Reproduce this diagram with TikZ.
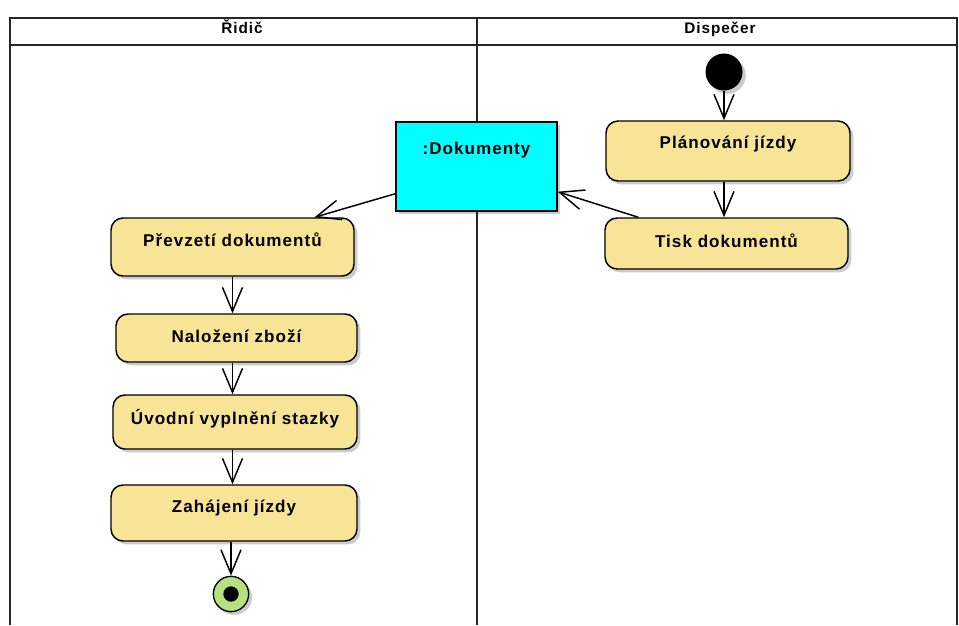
\documentclass[tikz,border=0pt]{standalone}
\usepackage{fontspec}
\setmainfont{Liberation Sans}
\newfontfamily\actfont[LetterSpace=6]{Liberation Sans}
\usetikzlibrary{arrows.meta,shadows,calc}
\definecolor{actfill}{RGB}{248,228,150}
\definecolor{objfill}{RGB}{0,255,255}
\definecolor{endfill}{RGB}{182,225,128}
\begin{document}
\begin{tikzpicture}[x=0.75pt,y=-0.75pt,
  lane/.style={draw=black!85, line width=1pt},
  head/.style={font=\actfont\bfseries\fontsize{11.5}{13}\selectfont, text height=9pt, text depth=3pt},
  shade/.style={drop shadow={shadow xshift=2.5pt, shadow yshift=-2.5pt, fill=black, opacity=0.2}},
  act/.style={draw, line width=1.1pt, fill=actfill, rounded corners=9pt, shade,
    font=\actfont\bfseries\fontsize{12.8}{14}\selectfont, text height=9pt, inner sep=2pt},
  obj/.style={draw, line width=1.1pt, fill=objfill, shade,
    font=\actfont\bfseries\fontsize{12.8}{14}\selectfont, text height=9pt, inner sep=2pt},
  flow/.style={draw, line width=1.1pt, -{Straight Barb[length=18pt, width=15pt, line width=1.1pt]}}]
\useasboundingbox (0,0) rectangle (959,625);

% swimlane frame
\draw[lane] (10,625) -- (10,18) -- (957,18) -- (957,625);
\draw[lane] (10,45) -- (957,45);
\draw[lane] (477,18) -- (477,625);
\node[head] (hR) at (242,29.5) {Řidič};
\node[head] (hD) at (720,29.5) {Dispečer};

% Dispečer lane
\node[circle, fill=black, minimum size=27.75pt, inner sep=0pt, shade] (init) at (724,72) {};
\node[act, minimum width=183pt, minimum height=45pt, text depth=12.5pt] (plan) at (728,151) {Plánování jízdy};
\node[act, minimum width=182.25pt, minimum height=38.25pt, text depth=3pt] (tisk) at (726.5,243.5) {Tisk dokumentů};

% object flow node
\node[obj, minimum width=120.75pt, minimum height=66.75pt, text depth=27.5pt] (dok) at (476.5,166.5) {:Dokumenty};

% Řidič lane
\node[act, minimum width=182.25pt, minimum height=43.5pt, text depth=9.5pt] (prev) at (232.5,247) {Převzetí dokumentů};
\node[act, minimum width=180.75pt, minimum height=36pt, text depth=2pt] (nal) at (236.5,338) {Naložení zboží};
\node[act, minimum width=183pt, minimum height=40.5pt, text depth=5pt] (uvod) at (235,422) {Úvodní vyplnění stazky};
\node[act, minimum width=184.5pt, minimum height=42pt, text depth=9.5pt] (zah) at (234,513) {Zahájení jízdy};
\node[circle, draw, line width=1pt, fill=endfill, minimum size=26.5pt, inner sep=0pt, shade] (fin) at (231,594) {};
\node[circle, fill=black, minimum size=11.5pt, inner sep=0pt] (fincore) at (fin) {};

% control and object flows
\draw[flow] (init) -- (init |- plan.north);
\draw[flow] (plan.south -| init) -- (tisk.north -| init);
\draw[flow] ($(tisk.north west)+(34,0)$) -- ($(dok.south east)+(0,-20)$);
\draw[flow] ($(dok.south west)+(0,-18)$) -- ($(prev.north)+(82,0)$);
\draw[flow] (prev.south) -- (prev.south |- nal.north);
\draw[flow] (prev.south |- nal.south) -- (prev.south |- uvod.north);
\draw[flow] (prev.south |- uvod.south) -- (prev.south |- zah.north);
\draw[flow] (fin |- zah.south) -- (fin.north);
\end{tikzpicture}
\end{document}
